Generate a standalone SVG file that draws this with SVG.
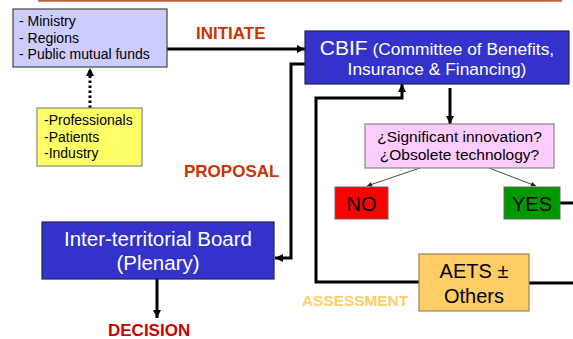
<svg xmlns="http://www.w3.org/2000/svg" width="573" height="339" viewBox="0 0 573 339">
<defs>
<marker id="ah" viewBox="0 0 10 10" refX="10" refY="5" markerUnits="userSpaceOnUse" markerWidth="9" markerHeight="8" orient="auto">
<path d="M0,0 L10,5 L0,10 z" fill="#000"/>
</marker>
<marker id="ahs" viewBox="0 0 10 10" refX="10" refY="5" markerUnits="userSpaceOnUse" markerWidth="7" markerHeight="5" orient="auto">
<path d="M0,0 L10,5 L0,10 z" fill="#222"/>
</marker>
</defs>
<style>
text{font-family:"Liberation Sans",Arial,sans-serif}
.c{fill:none;stroke:#000;stroke-width:3;stroke-linejoin:miter}
.thin{fill:none;stroke:#333;stroke-width:0.9}
.lbl{font-weight:bold;font-size:17px}
.w{fill:#fff}
.k{fill:#000}
</style>
<rect width="573" height="339" fill="#fff"/>
<line x1="38" y1="0.8" x2="562" y2="0.8" stroke="#C0603A" stroke-width="2"/>

<g id="connectors">
<line class="c" x1="167" y1="49" x2="305" y2="49" marker-end="url(#ah)"/>
<line x1="90" y1="108" x2="90" y2="68" stroke="#000" stroke-width="3" stroke-dasharray="2.5 2.5" marker-end="url(#ah)"/>
<polyline class="c" points="305,64 291,64 291,258 275,258" marker-end="url(#ah)"/>
<polyline class="c" points="419,282 316,282 316,98 402,98 402,84" marker-end="url(#ah)"/>
<line class="c" x1="450" y1="88" x2="450" y2="124" marker-end="url(#ah)"/>
<line class="thin" x1="420" y1="168" x2="367" y2="186" marker-end="url(#ahs)"/>
<line class="thin" x1="489" y1="168" x2="536" y2="186" marker-end="url(#ahs)"/>
<line class="c" x1="560" y1="203" x2="573" y2="203"/>
<line class="c" x1="529" y1="283" x2="573" y2="283"/>
<line class="c" x1="157" y1="279" x2="157" y2="318" marker-end="url(#ah)"/>
</g>

<g id="initiators">
<rect x="13" y="9" width="154" height="58" fill="#CCCCFF" stroke="#444" stroke-width="1.2"/>
<text x="19" y="26" font-size="14" class="k">- Ministry</text>
<text x="19" y="43" font-size="14" class="k">- Regions</text>
<text x="19" y="59" font-size="14" class="k">- Public mutual funds</text>
</g>

<g id="stakeholders">
<rect x="37" y="108" width="105" height="58" fill="#FFFF66" stroke="#888" stroke-width="1.2"/>
<text x="44" y="125" font-size="14" class="k">-Professionals</text>
<text x="44" y="142" font-size="14" class="k">-Patients</text>
<text x="44" y="158" font-size="14" class="k">-Industry</text>
</g>

<g id="cbif">
<rect x="305" y="31" width="264" height="53" fill="#3333CC" stroke="#222255" stroke-width="1.2"/>
<text x="437" y="55" text-anchor="middle" class="w"><tspan font-size="21">CBIF</tspan><tspan font-size="17.4"> (Committee of Benefits,</tspan></text>
<text x="437" y="75" text-anchor="middle" font-size="17.4" class="w">Insurance &amp; Financing)</text>
</g>

<g id="question">
<rect x="365" y="124" width="189" height="44" fill="#FFCCFF" stroke="#888" stroke-width="1.2"/>
<text x="459.5" y="142" text-anchor="middle" font-size="15.5" class="k">¿Significant innovation?</text>
<text x="459.5" y="160" text-anchor="middle" font-size="15.5" class="k">¿Obsolete technology?</text>
</g>

<g id="no">
<rect x="335" y="187" width="53" height="32" fill="#FF0000" stroke="#666" stroke-width="1"/>
<text x="361.5" y="211" text-anchor="middle" font-size="20" class="k">NO</text>
</g>

<g id="yes">
<rect x="504" y="187" width="56" height="32" fill="#009900" stroke="#666" stroke-width="1"/>
<text x="532" y="211" text-anchor="middle" font-size="20" class="k">YES</text>
</g>

<g id="aets">
<rect x="419" y="254" width="110" height="57" fill="#FFCC66" stroke="#998855" stroke-width="1.2"/>
<text x="474" y="278" text-anchor="middle" font-size="20" class="k">AETS ±</text>
<text x="474" y="303" text-anchor="middle" font-size="20" class="k">Others</text>
</g>

<g id="board">
<rect x="42" y="222" width="232" height="57" fill="#3333CC" stroke="#222255" stroke-width="1.2"/>
<text x="158" y="246" text-anchor="middle" font-size="20.5" class="w">Inter-territorial Board</text>
<text x="158" y="270" text-anchor="middle" font-size="20.5" class="w">(Plenary)</text>
</g>

<g id="labels">
<text x="196" y="39" class="lbl" fill="#CC3300">INITIATE</text>
<text x="184" y="177" class="lbl" fill="#CC3300">PROPOSAL</text>
<text x="108" y="336" class="lbl" fill="#CC0000">DECISION</text>
<text x="302" y="306" font-weight="bold" font-size="15.4" fill="#FFCC66">ASSESSMENT</text>
</g>
</svg>
